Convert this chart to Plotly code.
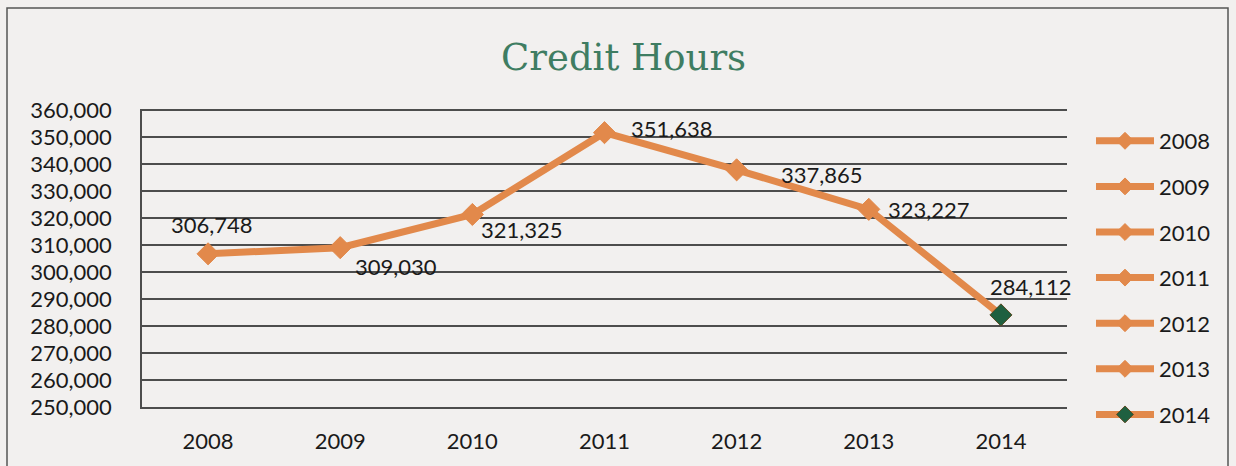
import plotly.graph_objects as go

# Data
years = ["2008", "2009", "2010", "2011", "2012", "2013", "2014"]
credit_hours = [306748, 309030, 321325, 351638, 337865, 323227, 284112]
y_ticks = list(range(250000, 360001, 10000))

W, H = 1236, 466
ML, MR, MT, MB = 142, 169, 109, 59
PW, PH = W - ML - MR, H - MT - MB

ORANGE = "#e2894b"
GREEN = "#1f6040"
GRID = "#4d4d4d"
BG = "#f2f0ef"
TXT = "#1a1a1a"
FONT = "Lato"

def px_x(p):
    return (p - ML) / PW

def px_y(p):
    return (H - MB - p) / PH

xpos = list(range(len(years)))
marker_colors = [ORANGE] * (len(years) - 1) + [GREEN]
marker_lines = [ORANGE] * (len(years) - 1) + ["#5a4a22"]

fig = go.Figure()

fig.add_trace(go.Scatter(
    x=xpos, y=credit_hours, mode="lines+markers", showlegend=False,
    line=dict(color=ORANGE, width=7),
    marker=dict(symbol="diamond", size=17, color=marker_colors,
                line=dict(color=marker_lines, width=1)),
    hoverinfo="skip",
))

# One legend entry per year (no visible points)
for i, yr in enumerate(years):
    fig.add_trace(go.Scatter(
        x=[None], y=[None], mode="lines+markers", name=yr,
        legendgroup=yr,
        line=dict(color=ORANGE, width=7),
        marker=dict(symbol="diamond", size=13, color=marker_colors[i],
                    line=dict(color=marker_lines[i], width=1)),
        hoverinfo="skip",
    ))

# Value labels (pixel offsets from each point)
label_offsets = [(4, 29), (56, -19), (50, -15), (67, 4), (85, -5), (60, 0), (30, 28)]
for i, (v, (dx, dy)) in enumerate(zip(credit_hours, label_offsets)):
    fig.add_annotation(
        x=xpos[i], y=v, text=f"{v:,}", showarrow=False, xshift=dx, yshift=dy,
        xanchor="center", yanchor="middle",
        font=dict(family=FONT, size=22, color=TXT),
    )

# Title
fig.add_annotation(
    x=px_x(623), y=px_y(57), xref="paper", yref="paper", text="Credit Hours",
    xanchor="center", yanchor="middle", showarrow=False,
    font=dict(family="DejaVu Serif", size=37, color="#3f7d62"),
)

# Outer frame
fig.add_shape(type="rect", xref="paper", yref="paper",
              x0=px_x(7), x1=px_x(1228), y0=px_y(472), y1=px_y(8),
              line=dict(color="#555555", width=1.5), layer="below")

fig.update_layout(
    width=W, height=H,
    margin=dict(l=ML, r=MR, t=MT, b=MB, autoexpand=False),
    paper_bgcolor=BG, plot_bgcolor=BG,
    font=dict(family=FONT, size=22, color=TXT),
    showlegend=True,
    legend=dict(
        x=px_x(1091), y=px_y(120), xanchor="left", yanchor="top",
        bgcolor="rgba(0,0,0,0)", tracegroupgap=14, itemwidth=58,
        maxheight=440,
        font=dict(family=FONT, size=22, color=TXT),
    ),
    xaxis=dict(
        range=[-0.5, len(years) - 0.5],
        tickvals=xpos, ticktext=years,
        showgrid=False, showline=True, linecolor=GRID, zeroline=False,
        linewidth=1.5, ticks="", ticklabelstandoff=14,
        tickfont=dict(family=FONT, size=22, color=TXT),
    ),
    yaxis=dict(
        range=[250000, 360400], tickvals=y_ticks,
        ticktext=[f"{t:,}" for t in y_ticks],
        showgrid=True, gridcolor=GRID, gridwidth=1.5,
        showline=True, linecolor=GRID, linewidth=1.5, zeroline=False,
        ticks="", ticklabelstandoff=24,
        tickfont=dict(family=FONT, size=22, color=TXT),
    ),
)

fig.write_html("out.html")
